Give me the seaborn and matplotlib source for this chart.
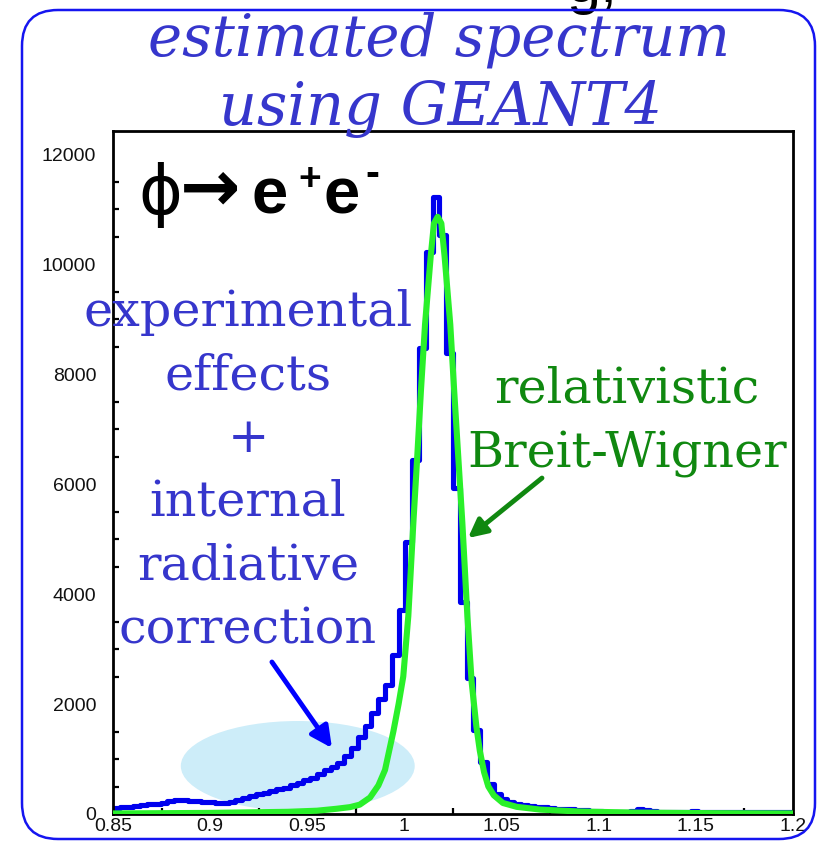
import numpy as np
import pandas as pd
import seaborn as sns
import matplotlib
matplotlib.use("Agg")
import matplotlib.pyplot as plt
from matplotlib.patches import Ellipse, FancyBboxPatch
from matplotlib.ticker import MultipleLocator
from matplotlib.transforms import IdentityTransform

# ---------------------------------------------------------------- data
# phi -> e+e- invariant mass spectrum (GeV), 100 bins from 0.85 to 1.20
mass_range = (0.85, 1.20)
n_bins = 100
spectrum_counts = [
    110, 120, 135, 150, 165, 175, 190, 205, 230, 250,
    250, 240, 230, 220, 210, 205, 200, 215, 250, 300,
    330, 360, 390, 420, 450, 480, 520, 560, 610, 660,
    720, 800, 860, 930, 1060, 1200, 1400, 1600, 1830, 2100,
    2350, 2891, 3709, 4951, 6436, 8467, 10224, 11224, 10527, 8382,
    5927, 3860, 2467, 1527, 951, 540, 360, 270, 220, 180,
    160, 140, 130, 120, 110, 100, 95, 90, 80, 70,
    60, 50, 30, 20, 35, 45, 60, 90, 70, 50,
    40, 45, 40, 35, 40, 50, 45, 40, 35, 30,
    35, 40, 45, 40, 35, 30, 35, 45, 40, 35,
]

# relativistic Breit-Wigner curve
bw_mass = [0.850, 0.900, 0.940, 0.955, 0.965, 0.9720, 0.9770, 0.9823, 0.9866,
           0.9900, 0.9943, 0.9970, 0.9994, 1.0020, 1.0046, 1.0066, 1.0085,
           1.0106, 1.0135, 1.0152, 1.0171, 1.0190, 1.0207, 1.0236, 1.0256,
           1.0277, 1.0298, 1.0324, 1.0346, 1.0370, 1.0388, 1.0410, 1.0432,
           1.0460, 1.0507, 1.0578, 1.0700, 1.0900, 1.1200, 1.1600, 1.2000]
bw_counts = [10, 20, 40, 60, 95, 125, 170, 300, 520,
             800, 1500, 2000, 2500, 3600, 5300, 6500, 7700,
             8900, 10130, 10740, 10860, 10740, 10130, 8900, 7700,
             6500, 5300, 3600, 2400, 1600, 1150, 760, 500,
             340, 200, 130, 80, 45, 25, 15, 10]

y_ticks = [0, 2000, 4000, 6000, 8000, 10000, 12000]
x_ticks = [0.85, 0.9, 0.95, 1.0, 1.05, 1.1, 1.15, 1.2]
x_tick_labels = ["0.85", "0.9", "0.95", "1", "1.05", "1.1", "1.15", "1.2"]

title_lines = ["estimated spectrum", "using GEANT4"]
tail_lines = ["experimental", "effects", "+", "internal", "radiative", "correction"]
bw_lines = ["relativistic", "Breit-Wigner"]

# ---------------------------------------------------------------- style
W, H = 818, 842
sns.set_theme(style="white")
plt.rcParams["font.family"] = ["Liberation Sans", "DejaVu Sans"]

BLUE_HIST = "#0000ee"
BLUE_TEXT = "#3636cc"
GREEN_LINE = "#2af02a"
GREEN_TEXT = "#108810"
HALO = "#cdedf9"

fig = plt.figure(figsize=(W / 100, H / 100), dpi=100, facecolor="white")
ax = fig.add_axes([113 / W, 28 / H, 680 / W, 683 / H])

edges = np.linspace(mass_range[0], mass_range[1], n_bins + 1)
centers = 0.5 * (edges[:-1] + edges[1:])
spec = pd.DataFrame({"mass": centers, "counts": spectrum_counts})
bw = pd.DataFrame({"mass": bw_mass, "counts": bw_counts})

# shaded region marking the radiative tail
ax.add_patch(Ellipse((0.9451, 873), 0.1204, 1636, facecolor=HALO,
                     edgecolor="none", zorder=0.5))

sns.histplot(data=spec, x="mass", weights="counts", bins=n_bins,
             binrange=mass_range, element="step", fill=False,
             color=BLUE_HIST, linewidth=3.7, ax=ax, zorder=2)
sns.lineplot(data=bw, x="mass", y="counts", color=GREEN_LINE, linewidth=4.4,
             ax=ax, zorder=3, solid_joinstyle="round", solid_capstyle="round")

ax.set_xlim(*mass_range)
ax.set_ylim(0, 12420)
ax.set_xlabel("")
ax.set_ylabel("")
ax.set_xticks(x_ticks)
ax.set_xticklabels(x_tick_labels)
ax.set_yticks(y_ticks)
ax.set_yticklabels([str(v) for v in y_ticks])
ax.xaxis.set_minor_locator(MultipleLocator(0.025))
ax.yaxis.set_minor_locator(MultipleLocator(500))
ax.tick_params(axis="both", which="both", direction="in", color="black",
               labelsize=14, labelcolor="#111111")
ax.tick_params(axis="x", which="major", length=7, width=1.8, pad=3)
ax.tick_params(axis="x", which="minor", length=4, width=1.6, bottom=True)
ax.tick_params(axis="y", which="major", length=8.5, width=1.8, pad=12)
ax.tick_params(axis="y", which="minor", length=4, width=1.6, left=True)
for side in ["top", "right", "bottom", "left"]:
    ax.spines[side].set_visible(True)
    ax.spines[side].set_color("black")
    ax.spines[side].set_linewidth(2.0)
ax.grid(False)
ax.set_facecolor("white")

# arrows pointing at the tail and at the fitted curve
ax.annotate("", xy=(0.9627, 1200), xytext=(0.9318, 2764),
            arrowprops=dict(arrowstyle="-|>", color="#0000ff", lw=3.5,
                            mutation_scale=32, shrinkA=0, shrinkB=0),
            annotation_clip=False, zorder=6)
ax.annotate("", xy=(1.0327, 5018), xytext=(1.0708, 6109),
            arrowprops=dict(arrowstyle="-|>", color=GREEN_TEXT, lw=3.5,
                            mutation_scale=28, shrinkA=0, shrinkB=0),
            annotation_clip=False, zorder=6)


def ptext(x, y, s, **kw):
    fig.text(x / W, 1 - y / H, s, **kw)


serif = ["DejaVu Serif"]

# heading
ptext(439, 55, title_lines[0], ha="center", va="baseline", family=serif,
      style="italic", fontsize=41.5, color=BLUE_TEXT, zorder=10)
ptext(441, 125, title_lines[1], ha="center", va="baseline", family=serif,
      style="italic", fontsize=42.5, color=BLUE_TEXT, zorder=10)
ptext(566, 2, "g,", ha="left", va="baseline", fontsize=44, color="black",
      zorder=10)

# decay label
ptext(160, 214, "\u03d5", ha="center", va="baseline", family=["DejaVu Sans"],
      fontsize=48, color="black", zorder=10)
ptext(180, 211, "\u2192", ha="left", va="baseline", family=["DejaVu Sans"],
      fontweight="bold", fontsize=52, color="black", zorder=10)
ptext(251, 213, "e", ha="left", va="baseline", fontweight="bold",
      fontsize=47, color="black", zorder=10)
ptext(298, 190, "+", ha="left", va="baseline", fontweight="bold",
      fontsize=28, color="black", zorder=10)
ptext(324, 213, "e", ha="left", va="baseline", fontweight="bold",
      fontsize=47, color="black", zorder=10)
ptext(365, 186, "-", ha="left", va="baseline", fontweight="bold",
      fontsize=30, color="black", zorder=10)

# tail annotation
tail_baselines = [326, 389, 452, 515, 580, 643]
for line, yb in zip(tail_lines, tail_baselines):
    ptext(248, yb, line, ha="center", va="baseline", family=serif,
          fontsize=35.5, color=BLUE_TEXT, zorder=10)

# fit annotation
for line, yb in zip(bw_lines, [403, 468]):
    ptext(627, yb, line, ha="center", va="baseline", family=serif,
          fontsize=35.5, color=GREEN_TEXT, zorder=10)

# rounded slide frame
frame = FancyBboxPatch((22, 3), 793, 829,
                       boxstyle="round,pad=0,rounding_size=36",
                       transform=IdentityTransform(), fill=False,
                       edgecolor="#1515f0", linewidth=1.8, zorder=20)
fig.add_artist(frame)

fig.savefig("out.png", dpi=100, facecolor="white")
